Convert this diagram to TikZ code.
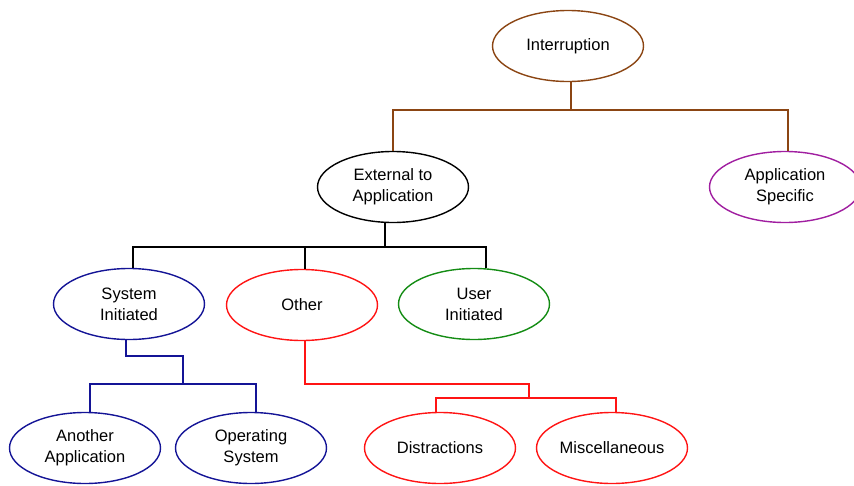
\documentclass[tikz,border=0pt]{standalone}
\usepackage{fontspec}
\setmainfont{Liberation Sans}
\usetikzlibrary{shapes.geometric}
\definecolor{cbrown}{RGB}{139,69,19}
\definecolor{cpurple}{RGB}{160,30,160}
\definecolor{cnavy}{RGB}{20,20,150}
\definecolor{cgreen}{RGB}{20,140,20}
\definecolor{cred}{RGB}{255,20,20}
\tikzset{
  oval/.style={ellipse, draw, line width=1.4pt, minimum width=151pt, minimum height=71pt,
    inner sep=0pt, align=center, font=\fontsize{16.5}{21}\selectfont},
  wire/.style={line width=1.4pt}
}
\begin{document}
\begin{tikzpicture}[x=1pt,y=-1pt]
\useasboundingbox (0,0) rectangle (854,485);
% nodes
\node[oval, draw=cbrown] (int) at (568,46) {Interruption};
\node[oval, draw=black] (ext) at (393,187) {External to\\Application};
\node[oval, draw=cpurple] (app) at (785,187) {Application\\Specific};
\node[oval, draw=cnavy] (sys) at (129,304) {System\\Initiated};
\node[oval, draw=cred] (oth) at (302,305) {Other};
\node[oval, draw=cgreen] (usr) at (474,304) {User\\Initiated};
\node[oval, draw=cnavy] (ano) at (85,448) {Another\\Application};
\node[oval, draw=cnavy] (ops) at (251,448) {Operating\\System};
\node[oval, draw=cred] (dis) at (440,448) {Distractions};
\node[oval, draw=cred] (mis) at (612,448) {Miscellaneous};
% connectors
\draw[wire, cbrown] ([xshift=3pt]int.south) -- ([xshift=3pt]int.south |- 0,110) -| (ext.north);
\draw[wire, cbrown] ([xshift=3pt]int.south |- 0,110) -| ([xshift=3pt]app.north);
\draw[wire, black] ([xshift=-8pt]ext.south) -- ([xshift=-8pt]ext.south |- 0,247) -| ([xshift=4pt]sys.north);
\draw[wire, black] ([xshift=-8pt]ext.south |- 0,247) -| ([xshift=3pt]oth.north);
\draw[wire, black] ([xshift=-8pt]ext.south |- 0,247) -| ([xshift=12pt]usr.north);
\draw[wire, cnavy] ([xshift=-3pt]sys.south) -- ([xshift=-3pt]sys.south |- 0,356) -- (183,356) -- (183,384) -| ([xshift=5pt]ano.north);
\draw[wire, cnavy] (183,384) -| ([xshift=5pt]ops.north);
\draw[wire, cred] ([xshift=3pt]oth.south) -- ([xshift=3pt]oth.south |- 0,384) -- (529,384) -- (529,398) -| ([xshift=-4pt]dis.north);
\draw[wire, cred] (529,398) -| ([xshift=4pt]mis.north);
\end{tikzpicture}
\end{document}
